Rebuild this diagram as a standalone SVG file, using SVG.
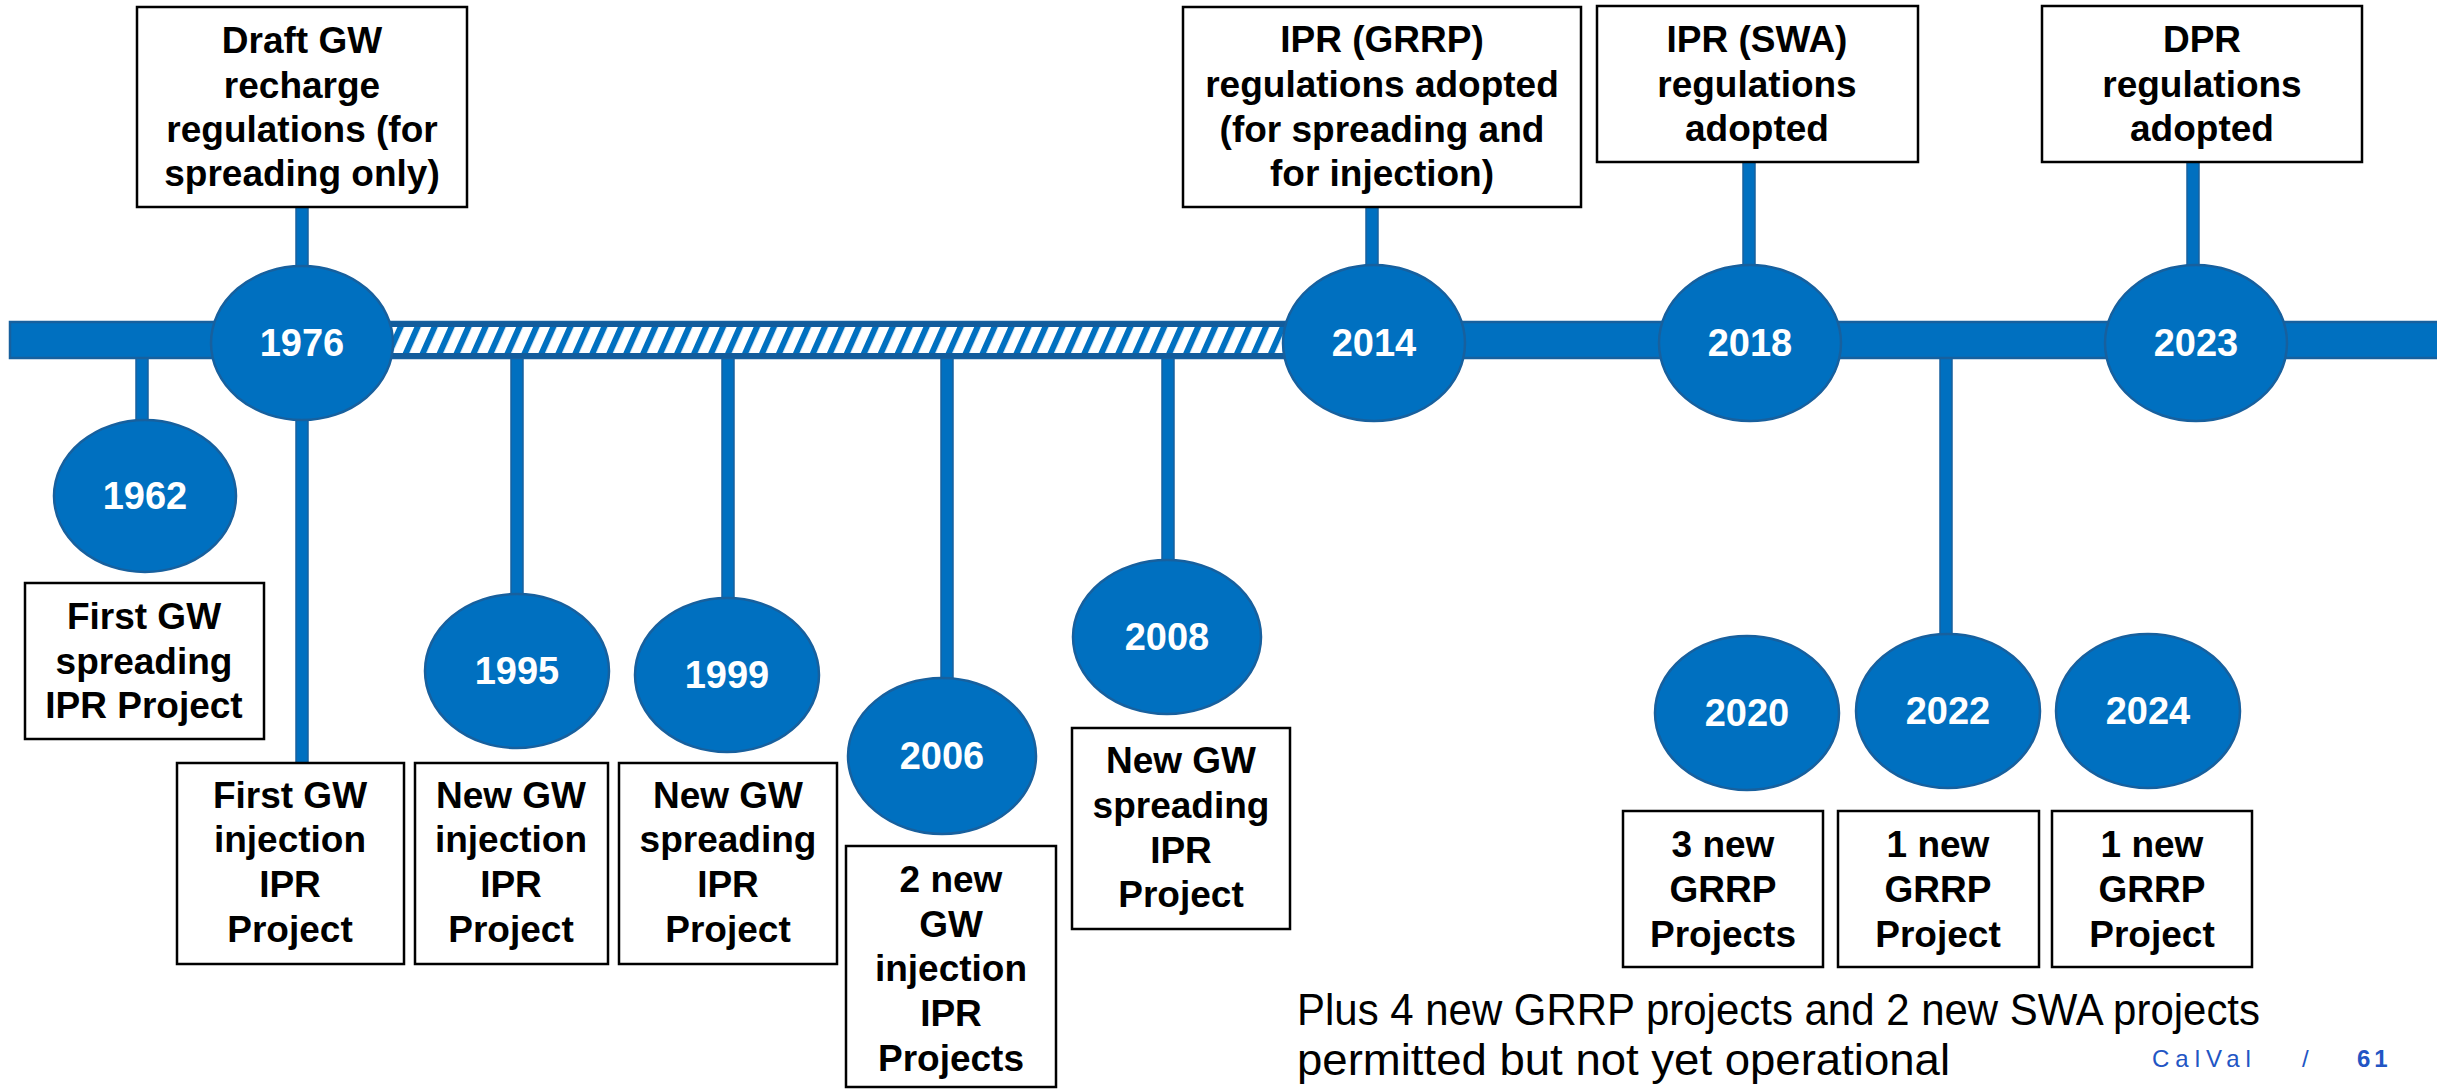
<svg xmlns="http://www.w3.org/2000/svg" width="2437" height="1089" viewBox="0 0 2437 1089">
<style>
.box{fill:#fff;stroke:#000;stroke-width:2.5}
.yr{fill:#0070C0;stroke:#17609E;stroke-width:2.5}
.stem{fill:#0070C0;stroke:#17609E;stroke-width:1.5}
.t{font-family:"Liberation Sans",Arial,sans-serif;font-weight:bold;font-size:37px;fill:#000;text-anchor:middle}
.y{font-family:"Liberation Sans",Arial,sans-serif;font-weight:bold;font-size:38px;fill:#fff;text-anchor:middle}
.note{font-family:"Liberation Sans",Arial,sans-serif;font-size:44px;fill:#000}
.foot{font-family:"Liberation Sans",Arial,sans-serif;font-size:24px;fill:#2255C4}
</style>
<defs>
<pattern id="hatch" patternUnits="userSpaceOnUse" width="15.5" height="40" patternTransform="rotate(24)">
<rect width="15.5" height="40" fill="#fff"/>
<rect width="6" height="40" fill="#0070C0"/>
</pattern>
</defs>
<rect width="2437" height="1089" fill="#fff"/>
<g id="connectors">
<rect class="stem" x="296" y="205" width="12" height="70"/>
<rect class="stem" x="136" y="355" width="12" height="70"/>
<rect class="stem" x="296" y="410" width="12" height="355"/>
<rect class="stem" x="511" y="355" width="12" height="245"/>
<rect class="stem" x="722" y="355" width="12" height="248"/>
<rect class="stem" x="941" y="355" width="12" height="328"/>
<rect class="stem" x="1162" y="355" width="12" height="210"/>
<rect class="stem" x="1366" y="205" width="12" height="68"/>
<rect class="stem" x="1743" y="160" width="12" height="112"/>
<rect class="stem" x="2187" y="160" width="12" height="112"/>
<rect class="stem" x="1940" y="355" width="12" height="285"/>
</g>
<g id="timeline">
<rect x="10" y="322" width="2440" height="36" fill="#0070C0" stroke="#17609E" stroke-width="2.5"/>
<rect x="385" y="324.5" width="910" height="31" fill="url(#hatch)" stroke="#125C9C" stroke-width="5"/>
</g>
<g id="y1962"><ellipse class="yr" cx="145" cy="496" rx="91" ry="76"/><text class="y" x="145" y="509">1962</text></g>
<g id="y1976"><ellipse class="yr" cx="302" cy="343" rx="91" ry="77"/><text class="y" x="302" y="356">1976</text></g>
<g id="y1995"><ellipse class="yr" cx="517" cy="671" rx="92" ry="77"/><text class="y" x="517" y="684">1995</text></g>
<g id="y1999"><ellipse class="yr" cx="727" cy="675" rx="92" ry="77"/><text class="y" x="727" y="688">1999</text></g>
<g id="y2006"><ellipse class="yr" cx="942" cy="756" rx="94" ry="78"/><text class="y" x="942" y="769">2006</text></g>
<g id="y2008"><ellipse class="yr" cx="1167" cy="637" rx="94" ry="77"/><text class="y" x="1167" y="650">2008</text></g>
<g id="y2014"><ellipse class="yr" cx="1374" cy="343" rx="91" ry="78"/><text class="y" x="1374" y="356">2014</text></g>
<g id="y2018"><ellipse class="yr" cx="1750" cy="343" rx="91" ry="78"/><text class="y" x="1750" y="356">2018</text></g>
<g id="y2023"><ellipse class="yr" cx="2196" cy="343" rx="91" ry="78"/><text class="y" x="2196" y="356">2023</text></g>
<g id="y2020"><ellipse class="yr" cx="1747" cy="713" rx="92" ry="77"/><text class="y" x="1747" y="726">2020</text></g>
<g id="y2022"><ellipse class="yr" cx="1948" cy="711" rx="92" ry="77"/><text class="y" x="1948" y="724">2022</text></g>
<g id="y2024"><ellipse class="yr" cx="2148" cy="711" rx="92" ry="77"/><text class="y" x="2148" y="724">2024</text></g>
<g id="b-draft"><rect class="box" x="137" y="7" width="330" height="200"/>
<text class="t" x="302" y="53">Draft GW</text><text class="t" x="302" y="98">recharge</text><text class="t" x="302" y="142">regulations (for</text><text class="t" x="302" y="186">spreading only)</text></g>
<g id="b-grrp"><rect class="box" x="1183" y="7" width="398" height="200"/>
<text class="t" x="1382" y="52">IPR (GRRP)</text><text class="t" x="1382" y="97">regulations adopted</text><text class="t" x="1382" y="142">(for spreading and</text><text class="t" x="1382" y="186">for injection)</text></g>
<g id="b-swa"><rect class="box" x="1597" y="6" width="321" height="156"/>
<text class="t" x="1757" y="52">IPR (SWA)</text><text class="t" x="1757" y="97">regulations</text><text class="t" x="1757" y="141">adopted</text></g>
<g id="b-dpr"><rect class="box" x="2042" y="6" width="320" height="156"/>
<text class="t" x="2202" y="52">DPR</text><text class="t" x="2202" y="97">regulations</text><text class="t" x="2202" y="141">adopted</text></g>
<g id="b-1962"><rect class="box" x="25" y="583" width="239" height="156"/>
<text class="t" x="144" y="629">First GW</text><text class="t" x="144" y="674">spreading</text><text class="t" x="144" y="718">IPR Project</text></g>
<g id="b-1976"><rect class="box" x="177" y="763" width="227" height="201"/>
<text class="t" x="290" y="808">First GW</text><text class="t" x="290" y="852">injection</text><text class="t" x="290" y="897">IPR</text><text class="t" x="290" y="942">Project</text></g>
<g id="b-1995"><rect class="box" x="415" y="763" width="193" height="201"/>
<text class="t" x="511" y="808">New GW</text><text class="t" x="511" y="852">injection</text><text class="t" x="511" y="897">IPR</text><text class="t" x="511" y="942">Project</text></g>
<g id="b-1999"><rect class="box" x="619" y="763" width="218" height="201"/>
<text class="t" x="728" y="808">New GW</text><text class="t" x="728" y="852">spreading</text><text class="t" x="728" y="897">IPR</text><text class="t" x="728" y="942">Project</text></g>
<g id="b-2006"><rect class="box" x="846" y="846" width="210" height="241"/>
<text class="t" x="951" y="892">2 new</text><text class="t" x="951" y="937">GW</text><text class="t" x="951" y="981">injection</text><text class="t" x="951" y="1026">IPR</text><text class="t" x="951" y="1071">Projects</text></g>
<g id="b-2008"><rect class="box" x="1072" y="728" width="218" height="201"/>
<text class="t" x="1181" y="773">New GW</text><text class="t" x="1181" y="818">spreading</text><text class="t" x="1181" y="863">IPR</text><text class="t" x="1181" y="907">Project</text></g>
<g id="b-2020"><rect class="box" x="1623" y="811" width="200" height="156"/>
<text class="t" x="1723" y="857">3 new</text><text class="t" x="1723" y="902">GRRP</text><text class="t" x="1723" y="947">Projects</text></g>
<g id="b-2022"><rect class="box" x="1838" y="811" width="201" height="156"/>
<text class="t" x="1938" y="857">1 new</text><text class="t" x="1938" y="902">GRRP</text><text class="t" x="1938" y="947">Project</text></g>
<g id="b-2024"><rect class="box" x="2052" y="811" width="200" height="156"/>
<text class="t" x="2152" y="857">1 new</text><text class="t" x="2152" y="902">GRRP</text><text class="t" x="2152" y="947">Project</text></g>
<g id="note">
<text class="note" x="1297" y="1025" textLength="963" lengthAdjust="spacingAndGlyphs">Plus 4 new GRRP projects and 2 new SWA projects</text>
<text class="note" x="1297" y="1075" textLength="653" lengthAdjust="spacingAndGlyphs">permitted but not yet operational</text>
</g>
<g id="footer">
<text class="foot" x="2152" y="1067" letter-spacing="6">CalVal</text>
<text class="foot" x="2302" y="1067">/</text>
<text class="foot" x="2357" y="1067" font-weight="bold" letter-spacing="4">61</text>
</g>
</svg>
